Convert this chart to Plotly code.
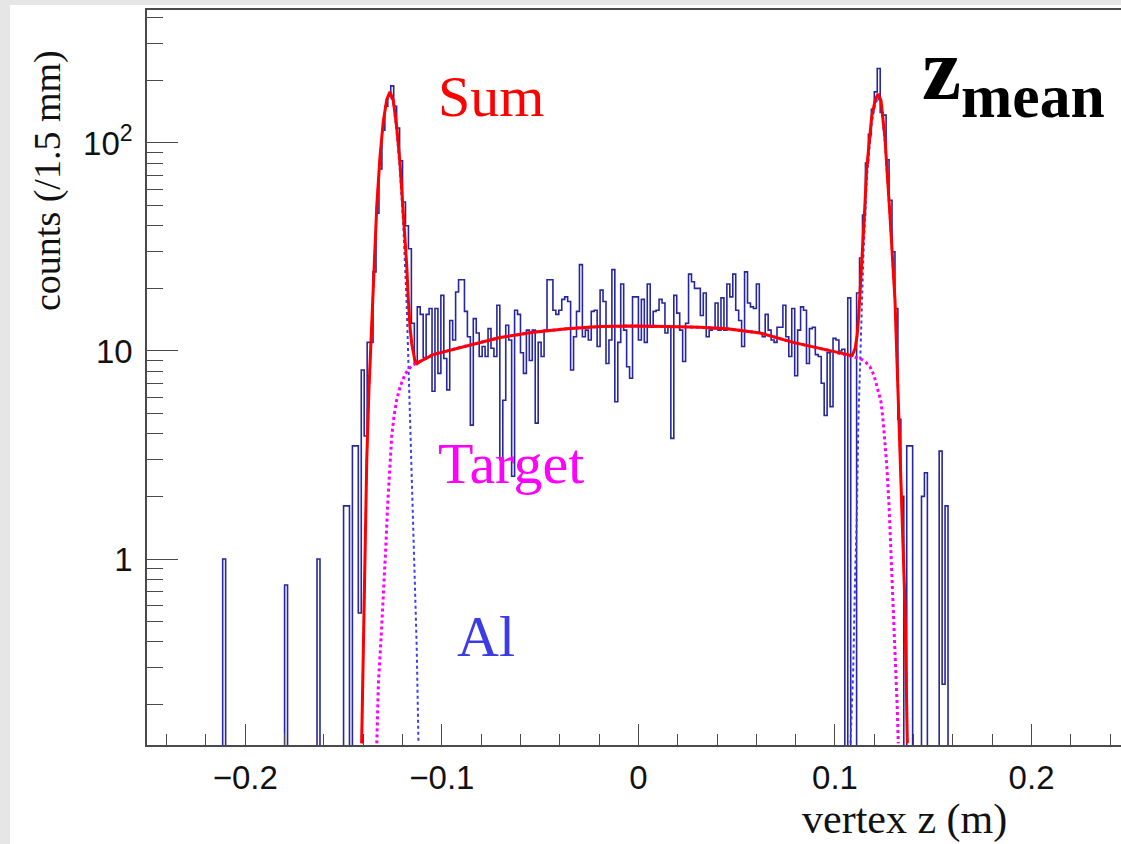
import plotly.graph_objects as go

# ---------------- data ----------------
BIN_WIDTH = 0.0015          # 1.5 mm bins
GRID_START = -0.2505
N_GRID = 330

tail_edges = [-0.2115, -0.1800, -0.1635]
tail_counts = [1.0, 0.75, 1.0]

core_first_edge = -0.1500
core_counts = [
    1.8, 1.8, 0, 3.5, 3.5, 0.55, 8.1, 3.9, 11, 11,
    24, 46, 75, 115, 150, 168, 188, 150, 118, 82,
    52, 40, 31, 13.6, 8.7,
    16.3, 15, 9.3, 15, 16, 6.4, 16, 7.8, 18.5, 9.2,
    6.5, 14, 11.3, 19.2, 22, 22, 15.5, 11.7, 4.4, 14.3,
    12.2, 9.4, 10.5, 9.4, 12.8, 10.3, 9.4, 16.6, 3.0, 5.8,
    13.3, 11.3, 2.5, 15.7, 15, 9.8, 7.8, 12.6, 9, 12.6,
    4.5, 11, 9.4, 12.6, 22, 22, 15.7, 15, 15.7, 17.7,
    18.2, 17.3, 8.1, 11.7, 15.5, 26, 11.7, 12.6, 11.3, 15.5,
    15.7, 10.5, 19.6, 17.3, 8.7, 11.3, 24.6, 5.7, 11, 21,
    12.6, 8.4, 7.4, 18.2, 18.2, 11.3, 17.7, 11, 21, 13,
    15.5, 15.7, 17.7, 17, 12.2, 13, 3.8, 18.5, 15.2, 12.6,
    8.9, 13.6, 23.4, 21.5, 20, 20, 14.8, 19, 11.7, 12.6,
    12.8, 17, 12.6, 18, 12.6, 21, 18.2, 23.4, 15.7, 14,
    10.5, 24, 17, 16.3, 16, 21, 12.2, 11.7, 15, 12.6,
    11.3, 11, 13, 13, 16.6, 11.7, 9.4, 16, 7.6, 12.6,
    16.3, 15.7, 8.7, 12.8, 13, 9.6, 9.4, 7, 4.9, 9.8,
    5.4, 11.5, 11.3, 10, 10.2,
    0, 18, 0, 0, 19, 28, 45, 80, 110, 145,
    176, 228, 140, 136, 83, 53, 30, 16, 4.7, 2.0,
    0, 3.5, 3.5, 0, 0, 0, 2.0, 2.6, 0, 0,
    0, 0, 3.3, 0.25, 1.8, 0,
]

sum_z = [-0.1408, -0.1396, -0.1382, -0.1371, -0.1357, -0.1345, -0.1331, -0.1315,
         -0.1298, -0.1280, -0.1264, -0.1247, -0.1230, -0.1213, -0.1196, -0.1179,
         -0.1171, -0.1162, -0.1153, -0.1145, -0.1137, -0.1126, -0.1111, -0.1045,
         -0.0872, -0.0704, -0.0536, -0.0363, -0.0195, -0.0027, 0.0146, 0.0313,
         0.0451, 0.0619, 0.0787, 0.0960, 0.1087, 0.1103, 0.1113, 0.1120, 0.1128,
         0.1138, 0.1148, 0.1161, 0.1187, 0.1204, 0.1219, 0.1234, 0.1254, 0.1279,
         0.1305, 0.1322, 0.1339, 0.1356, 0.1368]
sum_v = [0.13, 0.6, 3.0, 6.5, 13.9, 25, 50, 85,
         127, 162, 176, 160, 120, 80, 48, 26,
         18, 13, 10.8, 9.7, 9.0, 8.7, 8.9, 9.6,
         10.6, 11.6, 12.3, 12.8, 13.1, 13.2, 13.1, 13.0,
         12.8, 12.2, 11.0, 10.1, 9.5, 10.3, 12, 14.5, 19,
         28, 42, 75, 134, 160, 172, 160, 106, 46,
         17.7, 5.8, 2.0, 0.6, 0.13]

target_z = [-0.1331, -0.1323, -0.1309, -0.1298, -0.1286, -0.1276, -0.1266, -0.1255,
            -0.1243, -0.1230, -0.1213, -0.1188, -0.1168, -0.1145, -0.1111, -0.1045,
            -0.0872, -0.0704, -0.0536, -0.0363, -0.0195, -0.0027, 0.0146, 0.0313,
            0.0451, 0.0619, 0.0787, 0.0960, 0.1087, 0.1108, 0.1128, 0.1153, 0.1178,
            0.1199, 0.1220, 0.1234, 0.1246, 0.1263, 0.1275, 0.1289, 0.1298, 0.1305,
            0.1316, 0.1322]
target_v = [0.13, 0.25, 0.42, 0.64, 1.1, 1.8, 2.8, 3.9,
            4.9, 5.8, 6.7, 7.7, 8.2, 8.6, 8.9, 9.6,
            10.6, 11.6, 12.3, 12.8, 13.1, 13.2, 13.1, 13.0,
            12.8, 12.2, 11.0, 10.1, 9.4, 9.3, 9.2, 8.9, 8.4,
            7.6, 6.5, 5.7, 4.5, 2.85, 1.8, 0.92, 0.6, 0.36,
            0.2, 0.13]

al_left_z = [-0.1408, -0.1396, -0.1382, -0.1371, -0.1357, -0.1345, -0.1331, -0.1315,
             -0.1298, -0.1280, -0.1264, -0.1247, -0.1230, -0.1213, -0.1196, -0.1179,
             -0.1171, -0.1162, -0.1153, -0.1145, -0.1137, -0.1128, -0.1119]
al_left_v = [0.13, 0.6, 3.0, 6.5, 13.9, 25, 50, 85,
             126, 160, 172, 155, 114, 73, 40, 17,
             9.5, 4.7, 2.3, 1.35, 0.8, 0.38, 0.13]

al_right_z = [0.1079, 0.1087, 0.1093, 0.1102, 0.1111, 0.1119, 0.1128, 0.1136, 0.1144,
              0.1161, 0.1187, 0.1204, 0.1219, 0.1234, 0.1254, 0.1279, 0.1305, 0.1322,
              0.1339, 0.1356, 0.1368]
al_right_v = [0.13, 0.2, 0.3, 0.8, 1.6, 4.6, 9, 16.8, 28,
              66, 126, 152, 166, 154, 101, 44, 17.3, 5.7,
              2.0, 0.6, 0.13]

x_tick_vals = [-0.2, -0.1, 0, 0.1, 0.2]
x_tick_text = ["\u22120.2", "\u22120.1", "0", "0.1", "0.2"]
y_tick_vals = [1, 10, 100]
y_tick_text = ["1", "10", "10<sup>2</sup>"]

# ---------------- build histogram outline ----------------
counts = [0.0] * N_GRID
for e, c in zip(tail_edges, tail_counts):
    counts[round((e - GRID_START) / BIN_WIDTH)] = c
k0 = round((core_first_edge - GRID_START) / BIN_WIDTH)
for i, c in enumerate(core_counts):
    counts[k0 + i] = c

FLOOR = 0.01
hx = [GRID_START + i * BIN_WIDTH for i in range(N_GRID + 1)]
hy = [c if c > 0 else FLOOR for c in counts] + [counts[-1] if counts[-1] > 0 else FLOOR]

# ---------------- geometry helpers (pixels -> paper) ----------------
W, H = 1121, 844
L, R, T, B = 147, 0, 10, 99
PW, PH = W - L - R, H - T - B


def px(xp):
    return (xp - L) / PW


def py(yp):
    return (H - B - yp) / PH


fig = go.Figure()
fig.add_trace(go.Scatter(x=hx, y=hy, mode="lines", line=dict(shape="hv", color="#2626a0", width=1.6),
                         hoverinfo="skip", showlegend=False))
fig.add_trace(go.Scatter(x=al_left_z, y=al_left_v, mode="lines",
                         line=dict(color="#3c3cf0", width=2, dash="dot"), showlegend=False))
fig.add_trace(go.Scatter(x=al_right_z, y=al_right_v, mode="lines",
                         line=dict(color="#3c3cf0", width=2, dash="dot"), showlegend=False))
fig.add_trace(go.Scatter(x=target_z, y=target_v, mode="lines",
                         line=dict(color="#ff00ff", width=3, dash="dot"), showlegend=False))
fig.add_trace(go.Scatter(x=sum_z, y=sum_v, mode="lines",
                         line=dict(color="#ff0000", width=3), showlegend=False))

axis_col = "#4a4a4a"
tick_font = dict(family="Liberation Sans, Arial, sans-serif", size=33, color="#111111")

x_minor = [round(-0.24 + 0.02 * i, 2) for i in range(25)]
x_minor = [v for v in x_minor if abs(round(v * 10) - v * 10) > 1e-6]
y_minor = [m * 10 ** p for p in (-1, 0, 1, 2) for m in range(2, 10) if 0.13 < m * 10 ** p < 440]

fig.update_xaxes(range=[-0.25, 0.2455], showline=True, linecolor=axis_col, linewidth=1.6, mirror=True,
                 showgrid=False, zeroline=False, ticks="inside", ticklen=21, tickwidth=1.3,
                 tickcolor=axis_col, tickmode="array", tickvals=x_tick_vals, ticktext=x_tick_text,
                 tickfont=tick_font, ticklabelstandoff=3,
                 minor=dict(ticks="inside", ticklen=11, tickwidth=1.3, tickcolor=axis_col,
                            tickmode="array", tickvals=x_minor, showgrid=False))
fig.update_yaxes(type="log", range=[-0.894, 2.639], showline=True, linecolor=axis_col, linewidth=1.6,
                 mirror=False, showgrid=False, zeroline=False, ticks="inside", ticklen=31, tickwidth=1.3,
                 tickcolor=axis_col, tickmode="array", tickvals=y_tick_vals, ticktext=y_tick_text,
                 tickfont=tick_font, ticklabelstandoff=6,
                 minor=dict(ticks="inside", ticklen=16, tickwidth=1.3, tickcolor=axis_col,
                            tickmode="array", tickvals=y_minor, showgrid=False))

serif = "Liberation Serif, Times New Roman, serif"
annotations = [
    dict(text="Sum", x=px(436), y=py(97), xanchor="left", yanchor="middle",
         font=dict(family=serif, size=58, color="#ff0000")),
    dict(text="Target", x=px(436), y=py(463), xanchor="left", yanchor="middle",
         font=dict(family=serif, size=58, color="#ff00ff")),
    dict(text="Al", x=px(455), y=py(636), xanchor="left", yanchor="middle",
         font=dict(family=serif, size=58, color="#3c3ce6")),
    dict(text="<b>z<sub>mean</sub></b>", x=px(920), y=py(76), xanchor="left", yanchor="middle",
         font=dict(family=serif, size=88, color="#000000")),
    dict(text="vertex z (m)", x=px(1009), y=py(820), xanchor="right", yanchor="middle",
         font=dict(family=serif, size=42, color="#111111")),
    dict(text="counts (/1.5 mm)", x=px(47), y=py(181), xanchor="center", yanchor="middle",
         textangle=-90, font=dict(family=serif, size=38, color="#111111")),
]
for a in annotations:
    a.update(xref="paper", yref="paper", showarrow=False)

shapes = [
    dict(type="rect", xref="paper", yref="paper", x0=px(0), x1=px(10), y0=py(H), y1=py(0),
         fillcolor="#e6e6e6", line=dict(width=0), layer="below"),
    dict(type="rect", xref="paper", yref="paper", x0=px(0), x1=px(W), y0=py(5), y1=py(0),
         fillcolor="#e6e6e6", line=dict(width=0), layer="below"),
]

fig.update_layout(width=W, height=H, margin=dict(l=L, r=R, t=T, b=B, pad=0),
                  paper_bgcolor="white", plot_bgcolor="white",
                  annotations=annotations, shapes=shapes, showlegend=False)

fig.write_html("out.html", config={"displayModeBar": False},
               post_script="document.body.style.margin='0';document.body.style.overflow='hidden';")
